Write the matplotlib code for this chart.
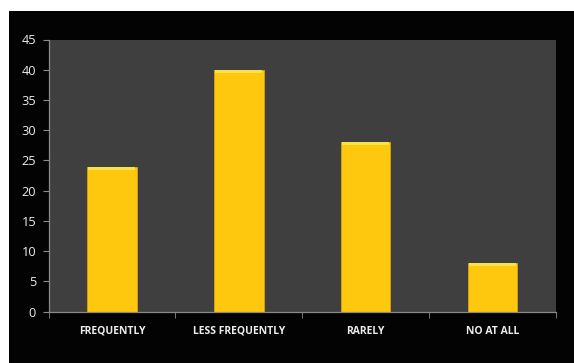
import numpy as np
import matplotlib.pyplot as plt
from matplotlib.patches import Rectangle

categories = ['FREQUENTLY', 'LESS FREQUENTLY', 'RARELY', 'NO AT ALL']
values = [24, 40, 28, 8]
yticks = [0, 5, 10, 15, 20, 25, 30, 35, 40, 45]

W, H = 574, 363
fig = plt.figure(figsize=(W / 100, H / 100), dpi=100, facecolor='white')
# black slide background with white margin at top and left
fig.patches.append(Rectangle((9 / W, 0), 1, (H - 11) / H, transform=fig.transFigure,
                             facecolor='#030303', edgecolor='none', zorder=-10))

ax = fig.add_axes([48.5 / W, (H - 311.7) / H, (556 - 48.5) / W, (311.7 - 39.5) / H])
ax.set_facecolor('#3f3f3f')

x = np.arange(len(categories))
ax.bar(x, values, width=0.39, color='#fdc80d', edgecolor='#d9a30a', linewidth=0.6, zorder=2)
# light bevel along the top of each bar
ax.bar(x, [0.5] * len(values), bottom=np.array(values) - 0.5, width=0.37,
       color='#f7e24a', edgecolor='none', zorder=3)

ax.set_xlim(-0.5, len(categories) - 0.5)
ax.set_ylim(0, 45)
ax.set_yticks(yticks)
ax.set_xticks(x)
ax.set_xticklabels(categories, fontfamily='Open Sans', fontweight='bold', fontsize=7.5, color='#ececec')
ax.set_xticks(np.arange(len(categories) + 1) - 0.5, minor=True)
ax.tick_params(axis='x', which='major', length=0, pad=10)
ax.tick_params(axis='x', which='minor', length=4, color='#8a8a8a', direction='out')
ax.tick_params(axis='y', length=4, color='#8a8a8a', labelcolor='#ececec', labelsize=9.2, pad=5)
for lbl in ax.get_yticklabels():
    lbl.set_fontfamily('Open Sans')

for side in ['top', 'right']:
    ax.spines[side].set_visible(False)
for side in ['left', 'bottom']:
    ax.spines[side].set_color('#8a8a8a')
    ax.spines[side].set_linewidth(0.9)

fig.savefig('out.png', dpi=100, facecolor=fig.get_facecolor())
